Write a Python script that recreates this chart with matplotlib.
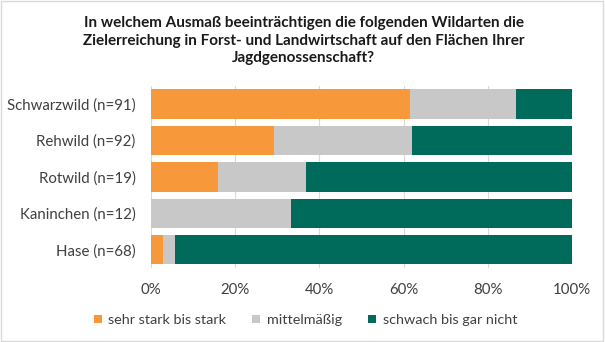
import matplotlib
matplotlib.use("Agg")
import matplotlib.pyplot as plt
from matplotlib.patches import Rectangle
import numpy as np

plt.rcParams['font.family'] = ['Lato', 'DejaVu Sans']

# Anteile in Prozent
kategorien = ["Schwarzwild (n=91)", "Rehwild (n=92)", "Rotwild (n=19)",
              "Kaninchen (n=12)", "Hase (n=68)"]
stark = [61.5, 29.3, 15.8, 0.0, 2.9]
mittel = [25.3, 32.6, 21.1, 33.3, 2.9]
schwach = [13.2, 38.1, 63.1, 66.7, 94.2]
serien = ["sehr stark bis stark", "mittelmäßig", "schwach bis gar nicht"]
farben = ["#F7993A", "#C8C8C8", "#006B5B"]

fig = plt.figure(figsize=(6.05, 3.42), dpi=100)
ax = fig.add_axes([0.2496, 0.216, 0.6959, 0.533])

y = np.arange(len(kategorien))[::-1]
links = np.zeros(len(kategorien))
for werte, name, farbe in zip([stark, mittel, schwach], serien, farben):
    ax.barh(y, werte, left=links, height=0.8, color=farbe, label=name, zorder=2)
    links = links + np.array(werte)

ax.set_xlim(0, 100)
ax.set_ylim(-0.5, len(kategorien) - 0.5)
ax.set_xticks(range(0, 101, 20))
ax.set_xticklabels([f"{t}%" for t in range(0, 101, 20)], fontsize=10.8, color="#404040")
ax.set_yticks(y)
ax.set_yticklabels(kategorien, fontsize=10.8, color="#404040")
ax.tick_params(length=0, pad=11)
ax.tick_params(axis='x', pad=11)
ax.xaxis.grid(True, color="#D9D9D9", linewidth=0.8, zorder=0)
for s in ax.spines.values():
    s.set_visible(False)

fig.text(0.502, 0.952,
         "In welchem Ausmaß beeinträchtigen die folgenden Wildarten die\n"
         "Zielerreichung in Forst- und Landwirtschaft auf den Flächen Ihrer\n"
         "Jagdgenossenschaft?",
         ha="center", va="top", fontsize=11, fontweight="bold",
         color="#1a1a1a", linespacing=1.32)

fig.legend(loc="center", bbox_to_anchor=(0.505, 0.064), ncol=3, frameon=False,
           fontsize=10.4, handlelength=0.55, handleheight=0.55, columnspacing=1.8,
           handletextpad=0.45, labelcolor="#404040")

fig.patches.append(Rectangle((0.002, 0.003), 0.995, 0.994, transform=fig.transFigure,
                             fill=False, edgecolor="#D9D9D9", linewidth=1))

fig.savefig("out.png", dpi=100)
